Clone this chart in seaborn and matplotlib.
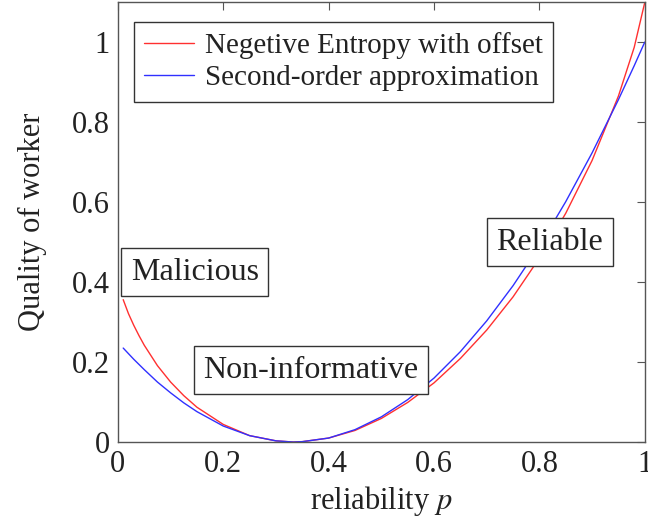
import matplotlib
matplotlib.use("Agg")
import matplotlib.pyplot as plt
import seaborn as sns
import pandas as pd

# Sampled reliability values and worker-quality curves
p_values = [0.01, 0.02, 0.03, 0.04, 0.05, 0.075, 0.1, 0.125, 0.15, 0.2, 0.25, 0.3, 0.333, 0.35,
            0.4, 0.45, 0.5, 0.55, 0.6, 0.65, 0.7, 0.75, 0.8, 0.85, 0.9, 0.95, 0.98, 1.0]
neg_entropy = [0.356, 0.321, 0.292, 0.266, 0.242, 0.191, 0.150, 0.116, 0.087, 0.044, 0.016, 0.003, 0.000, 0.001,
               0.010, 0.029, 0.059, 0.099, 0.148, 0.209, 0.280, 0.363, 0.460, 0.572, 0.704, 0.865, 0.987, 1.099]
second_order = [0.235, 0.221, 0.207, 0.194, 0.181, 0.150, 0.123, 0.098, 0.076, 0.040, 0.016, 0.003, 0.000, 0.001,
                0.010, 0.031, 0.063, 0.106, 0.160, 0.226, 0.303, 0.391, 0.490, 0.601, 0.723, 0.856, 0.941, 1.000]

series_names = ["Negetive Entropy with offset", "Second-order approximation"]
series_colors = ["#ff3030", "#3030ff"]

x_ticks = [0, 0.2, 0.4, 0.6, 0.8, 1]
x_tick_labels = ["0", "0.2", "0.4", "0.6", "0.8", "1"]
y_ticks = [0, 0.2, 0.4, 0.6, 0.8, 1]
y_tick_labels = ["0", "0.2", "0.4", "0.6", "0.8", "1"]

regions = ["Malicious", "Non-informative", "Reliable"]
region_x = [0.146, 0.366, 0.82]
region_y = [0.425, 0.18, 0.50]

df = pd.DataFrame({
    "p": p_values * 2,
    "quality": neg_entropy + second_order,
    "curve": [series_names[0]] * len(p_values) + [series_names[1]] * len(p_values),
})

sns.set_theme(style="white")
plt.rcParams["font.family"] = ["Liberation Serif", "DejaVu Serif"]
plt.rcParams["mathtext.fontset"] = "stix"

FS = 22

fig = plt.figure(figsize=(6.48, 5.25), dpi=100)
ax = fig.add_axes([0.182, 0.158, 0.813, 0.838])

sns.lineplot(data=df, x="p", y="quality", hue="curve", hue_order=series_names,
             palette=series_colors, linewidth=1.0, ax=ax, legend=False, sort=False)

ax.set_xlim(0, 1)
ax.set_ylim(0, 1.1)
ax.set_xticks(x_ticks)
ax.set_xticklabels(x_tick_labels)
ax.set_yticks(y_ticks)
ax.set_yticklabels(y_tick_labels)
ax.tick_params(axis="both", direction="in", length=6, width=0.8, color="#555555",
               labelsize=FS, labelcolor="#222222", top=True, right=True, pad=6)
for s in ax.spines.values():
    s.set_color("#555555")
    s.set_linewidth(1.0)

ax.set_xlabel("reliability $p$", fontsize=FS, color="#222222", labelpad=3)
ax.set_ylabel("Quality of worker", fontsize=FS, color="#222222", labelpad=18)

for name, xx, yy in zip(regions, region_x, region_y):
    ax.text(xx, yy, name, fontsize=23, color="#222222", ha="center", va="center",
            bbox=dict(boxstyle="square,pad=0.3", facecolor="white", edgecolor="#333333", linewidth=1.0))

handles = [plt.Line2D([], [], color=c, lw=1.0) for c in series_colors]
leg = ax.legend(handles, series_names, loc="upper left", bbox_to_anchor=(0.03, 0.955),
                borderaxespad=0, fontsize=21, frameon=True, fancybox=False,
                handlelength=1.7, handletextpad=0.4, labelspacing=0.2, borderpad=0.35)
leg.get_frame().set_edgecolor("#333333")
leg.get_frame().set_linewidth(1.0)
leg.get_frame().set_alpha(1.0)
for t in leg.get_texts():
    t.set_color("#222222")

fig.savefig("out.png", dpi=100)
